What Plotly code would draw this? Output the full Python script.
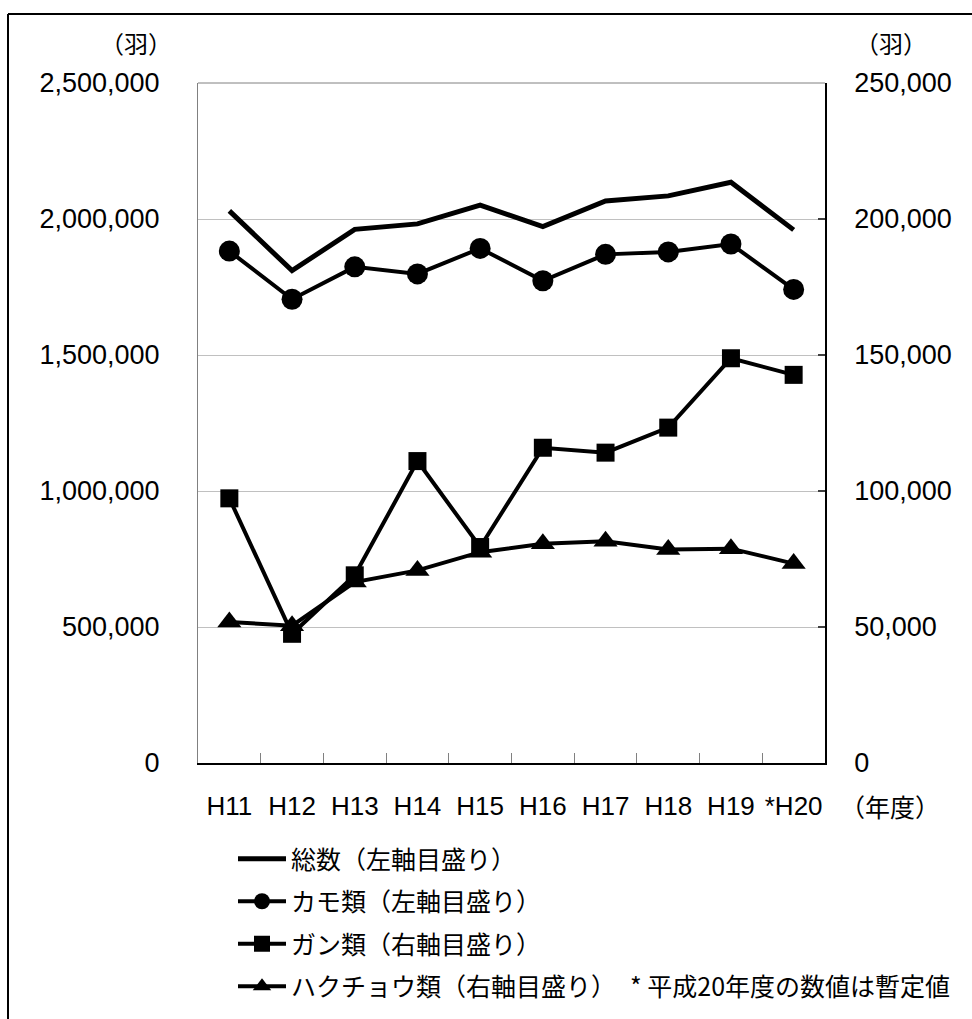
import plotly.graph_objects as go

# ---- data ----
categories = ["H11", "H12", "H13", "H14", "H15", "H16", "H17", "H18", "H19", "*H20"]
total = [2030000, 1810000, 1962000, 1982000, 2051000, 1972000, 2066000, 2085000, 2135000, 1960000]
kamo = [1882000, 1705000, 1824000, 1798000, 1892000, 1773000, 1870000, 1879000, 1908000, 1741000]
gan = [97300, 47500, 69000, 111000, 79400, 115900, 114100, 123300, 148800, 142700]
hakucho = [51800, 50500, 66500, 70800, 77500, 80600, 81500, 78500, 78800, 73300]

left_ticks = [0, 500000, 1000000, 1500000, 2000000, 2500000]
right_ticks = [0, 50000, 100000, 150000, 200000, 250000]

names = ["総数（左軸目盛り）", "カモ類（左軸目盛り）", "ガン類（右軸目盛り）", "ハクチョウ類（右軸目盛り）"]

W, H = 972, 1019
L, R, T, B = 198, 147, 83, 256
PW, PH = W - L - R, H - T - B


def px(x):
    return (x - L) / PW


def py(y):
    return (H - B - y) / PH


JP = "Noto Sans CJK JP"
NUM = "Liberation Sans, Arial, sans-serif"

fig = go.Figure()
fig.add_trace(go.Scatter(x=categories, y=total, name=names[0], mode="lines",
                         line=dict(color="black", width=5), legendgroup="a"))
fig.add_trace(go.Scatter(x=categories, y=kamo, name=names[1], mode="lines+markers",
                         line=dict(color="black", width=4),
                         marker=dict(symbol="circle", size=21, color="black"), legendgroup="b"))
fig.add_trace(go.Scatter(x=categories, y=gan, name=names[2], mode="lines+markers", yaxis="y2",
                         line=dict(color="black", width=4),
                         marker=dict(symbol="square", size=18, color="black"), legendgroup="c"))
fig.add_trace(go.Scatter(x=categories, y=hakucho, name=names[3], mode="lines+markers", yaxis="y2",
                         line=dict(color="black", width=4),
                         marker=dict(symbol="triangle-up", size=21, color="black"), legendgroup="d"))

fig.update_layout(
    width=W, height=H,
    margin=dict(l=L, r=R, t=T, b=B, pad=0, autoexpand=False),
    paper_bgcolor="white", plot_bgcolor="white",
    font=dict(family=NUM, size=27, color="black"),
    xaxis=dict(
        type="category", range=[-0.5, 9.5], automargin=False,
        showline=True, linecolor="black", linewidth=2,
        showgrid=False, zeroline=False,
        ticks="inside", ticklen=10, tickcolor="#808080", tickwidth=1,
        tickson="boundaries", tickangle=0,
        tickfont=dict(family=NUM, size=26, color="black"),
        ticklabelstandoff=19,
    ),
    yaxis=dict(
        range=[0, 2500000], tickvals=left_ticks, tickformat=",d", automargin=False,
        showline=True, linecolor="#808080", linewidth=1,
        showgrid=True, gridcolor="#c0c0c0", gridwidth=1, zeroline=False,
        ticks="", tickfont=dict(family=NUM, size=27, color="black"),
        ticklabelstandoff=32,
    ),
    yaxis2=dict(
        range=[0, 250000], tickvals=right_ticks, tickformat=",d", automargin=False,
        overlaying="y", side="right",
        showline=True, linecolor="black", linewidth=1.5,
        showgrid=False, zeroline=False,
        ticks="inside", ticklen=7, tickcolor="#404040", tickwidth=1.5,
        tickfont=dict(family=NUM, size=27, color="black"),
        ticklabelstandoff=22,
    ),
    legend=dict(
        x=px(233), y=py(836), xanchor="left", yanchor="top",
        font=dict(family=JP, size=25, color="black"),
        bgcolor="rgba(0,0,0,0)", borderwidth=0,
        tracegroupgap=7, traceorder="grouped", itemwidth=48,
    ),
    showlegend=True,
)

annotations = [
    dict(text="（羽）", x=px(136), y=py(43), font=dict(family=JP, size=24)),
    dict(text="（羽）", x=px(891), y=py(43), font=dict(family=JP, size=24)),
    dict(text="（年度）", x=px(890), y=py(806), font=dict(family=JP, size=25)),
    dict(text="* 平成20年度の数値は暫定値", x=px(952), y=py(985), xanchor="right",
         font=dict(family=JP, size=25)),
]
for a in annotations:
    a.setdefault("xanchor", "center")
    a.update(xref="paper", yref="paper", showarrow=False, yanchor="middle")
fig.update_layout(annotations=annotations)

shapes = [
    # outer frame (top and left edges visible)
    dict(type="line", xref="paper", yref="paper", x0=px(8), x1=px(990), y0=py(14), y1=py(14),
         line=dict(color="black", width=2)),
    dict(type="line", xref="paper", yref="paper", x0=px(8), x1=px(8), y0=py(14), y1=py(1040),
         line=dict(color="black", width=2)),
    # top border of plot area
    dict(type="line", xref="paper", yref="paper", x0=0, x1=1, y0=1, y1=1,
         line=dict(color="#808080", width=1)),
]
fig.update_layout(shapes=shapes)

fig.write_html("out.html", config={"displayModeBar": False},
               post_script="document.body.style.margin='0px';")
